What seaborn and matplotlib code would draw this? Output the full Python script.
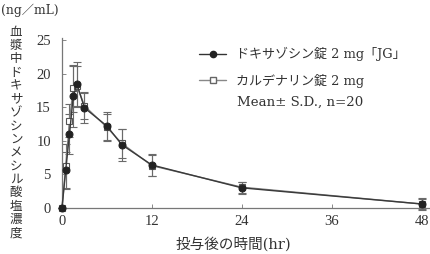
import matplotlib
matplotlib.use("Agg")
import matplotlib.pyplot as plt
import seaborn as sns
import pandas as pd
from matplotlib.lines import Line2D

# Data
time_hr = [0, 0.5, 1, 1.5, 2, 3, 6, 8, 12, 24, 48]
jg_mean = [0, 5.7, 11.0, 16.6, 18.4, 14.9, 12.2, 9.4, 6.4, 3.0, 0.6]
jg_sd = [0, 2.7, 3.0, 4.6, 3.4, 2.2, 2.1, 2.4, 1.7, 0.9, 0.9]
ref_mean = [0, 6.2, 13.0, 17.8, 18.2, 15.2, 12.0, 9.6, 6.3, 3.1, 0.6]
ref_sd = [0, 3.3, 2.5, 3.5, 3.0, 2.0, 2.0, 2.2, 1.6, 0.8, 0.8]
series_names = ["ドキサゾシン錠 2 mg「JG」", "カルデナリン錠 2 mg"]
x_ticks = [0, 12, 24, 36, 48]
y_ticks = [0, 5, 10, 15, 20, 25]

sns.set_theme(style="white")
plt.rcParams["font.family"] = ["DejaVu Serif", "Noto Sans CJK JP", "DejaVu Sans"]

df = pd.DataFrame({
    "time": time_hr * 2,
    "conc": jg_mean + ref_mean,
    "sd": jg_sd + ref_sd,
    "drug": [series_names[0]] * len(time_hr) + [series_names[1]] * len(time_hr),
})

fig = plt.figure(figsize=(4.3, 2.54), dpi=100)
ax = fig.add_axes([62 / 430, 1 - 208 / 254, 367 / 430, 170 / 254])

ecol = "#6a6a6a"
ax.errorbar(time_hr, ref_mean, yerr=ref_sd, fmt="none", ecolor=ecol, elinewidth=0.8,
            capsize=3, capthick=0.8, zorder=2, clip_on=False)
ax.errorbar(time_hr, jg_mean, yerr=jg_sd, fmt="none", ecolor=ecol, elinewidth=0.8,
            capsize=3, capthick=0.8, zorder=2, clip_on=False)

sub_ref = df[df["drug"] == series_names[1]]
sub_jg = df[df["drug"] == series_names[0]]
sns.lineplot(data=sub_ref, x="time", y="conc", ax=ax, color="#808080", lw=1.0,
             marker="s", markersize=4.5, markerfacecolor="white", markeredgecolor="#555555",
             markeredgewidth=0.8, zorder=3, clip_on=False, legend=False)
sns.lineplot(data=sub_jg, x="time", y="conc", ax=ax, color="#3a3a3a", lw=1.0,
             marker="o", markersize=5, markerfacecolor="#222222", markeredgecolor="#222222",
             zorder=4, clip_on=False, legend=False)

ax.set_xlim(0, 49)
ax.set_ylim(0, 25.3)
ax.set_xticks(x_ticks)
ax.set_yticks(y_ticks)
ax.set_xlabel("")
ax.set_ylabel("")
sns.despine(ax=ax)
for s in ["left", "bottom"]:
    ax.spines[s].set_color("#777777")
    ax.spines[s].set_linewidth(0.9)
ax.tick_params(direction="in", length=3, width=0.7, color="#888888",
               labelsize=10.5, labelcolor="#333333", left=True, bottom=True)
ax.tick_params(axis="y", pad=8)
ax.tick_params(axis="x", pad=5)
for lab in ax.get_xticklabels() + ax.get_yticklabels():
    lab.set_family(["Liberation Serif"])

# legend
handles = [
    Line2D([], [], color="#333333", lw=1.0, marker="o", markersize=4.5,
           markerfacecolor="#222222", markeredgecolor="#222222"),
    Line2D([], [], color="#888888", lw=1.0, marker="s", markersize=4.5,
           markerfacecolor="white", markeredgecolor="#666666"),
]
leg = fig.legend(handles, series_names, loc="upper left", bbox_to_anchor=(199 / 430, 1 - 47 / 254),
                 frameon=False, fontsize=9.4, handlelength=2.1, handletextpad=0.75,
                 labelspacing=0.95, borderaxespad=0, borderpad=0)
for t in leg.get_texts():
    t.set_color("#333333")
fig.text(237 / 430, 1 - 102 / 254, "Mean± S.D., n=20", fontsize=9.6, color="#333333",
         va="center", ha="left")

# unit and axis labels
fig.text(1 / 430, 1 - 10 / 254, "(ng／mL)", fontsize=8.8, color="#333333", va="center", ha="left")
ylabel = "血漿中ドキサゾシンメシル酸塩濃度"
top_y, bot_y = 32, 233
n = len(ylabel)
for i, ch in enumerate(ylabel):
    yy = top_y + (bot_y - top_y) * i / (n - 1)
    fig.text(16 / 430, 1 - yy / 254, ch, fontsize=9, color="#333333", ha="center", va="center",
             family=["Noto Sans CJK JP"])
fig.text(233 / 430, 1 - 244 / 254, "投与後の時間(hr)", fontsize=10.5, color="#333333",
         ha="center", va="center")

fig.savefig("out.png", dpi=100)
